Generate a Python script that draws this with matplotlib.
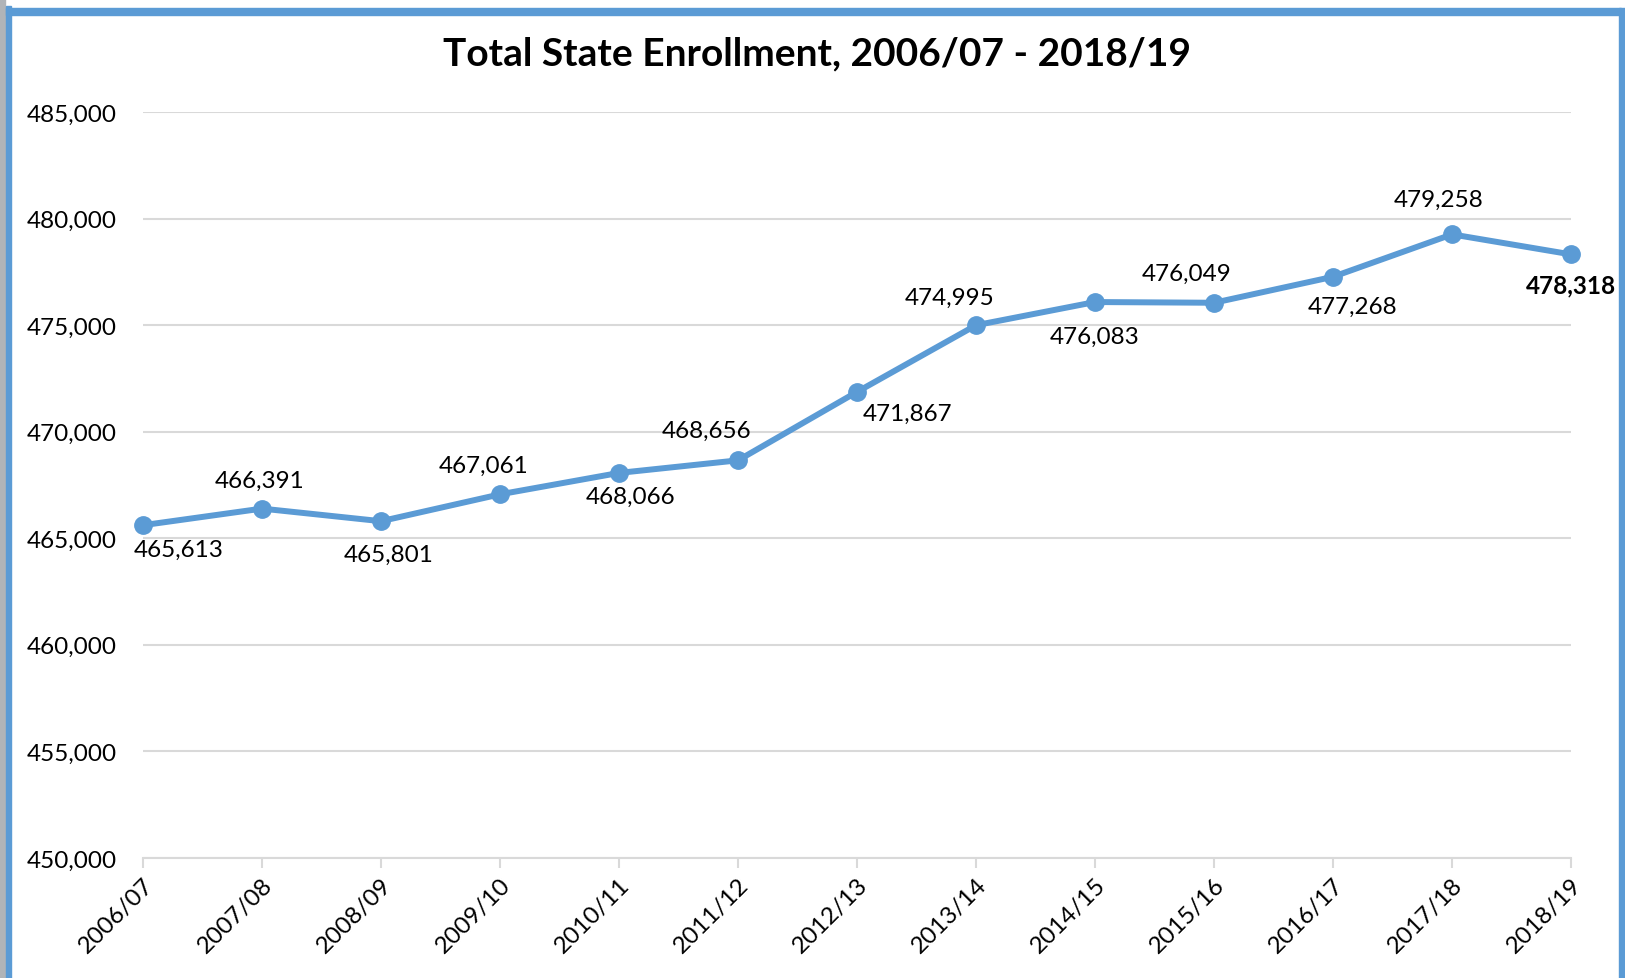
import matplotlib.pyplot as plt
from matplotlib.patches import Rectangle
from matplotlib.ticker import FuncFormatter, MultipleLocator

plt.rcParams['font.family'] = ['Lato', 'DejaVu Sans']

years = ['2006/07', '2007/08', '2008/09', '2009/10', '2010/11', '2011/12', '2012/13',
         '2013/14', '2014/15', '2015/16', '2016/17', '2017/18', '2018/19']
enrollment = [465613, 466391, 465801, 467061, 468066, 468656, 471867,
              474995, 476083, 476049, 477268, 479258, 478318]

# label offsets in pixels (dx, dy)
label_offsets = [(36, -24), (-2, 28), (8, -33), (-16, 29), (12, -23), (-31, 30), (51, -21),
                 (-26, 28), (0, -34), (-27, 29), (19, -30), (-13, 35), (0, -31)]

blue = '#5b9bd5'
grid_col = '#d9d9d9'

fig = plt.figure(figsize=(16.25, 9.79), dpi=100)
ax = fig.add_axes([0.088, 0.1226, 0.8788, 0.762])

x = list(range(len(years)))
ax.plot(x, enrollment, color=blue, lw=4.3, marker='o', ms=12.5, zorder=3, clip_on=False)

for i, v in enumerate(enrollment):
    dx, dy = label_offsets[i]
    ax.annotate(f'{v:,}', (i, v), xytext=(dx, dy), textcoords='offset pixels',
                ha='center', va='center', fontsize=17.5,
                fontweight='bold' if i == len(enrollment) - 1 else 'normal',
                annotation_clip=False)

ax.set_xlim(0, len(years) - 1)
ax.set_ylim(450000, 485000)
ax.yaxis.set_major_locator(MultipleLocator(5000))
ax.yaxis.set_major_formatter(FuncFormatter(lambda v, p: f'{int(v):,}'))
ax.set_xticks(x)
ax.set_xticklabels(years, rotation=45, ha='right', rotation_mode='anchor')

ax.grid(axis='y', color=grid_col, lw=1.5)
ax.set_axisbelow(True)
for s in ['top', 'right', 'left']:
    ax.spines[s].set_visible(False)
ax.spines['bottom'].set_color(grid_col)
ax.spines['bottom'].set_linewidth(1.5)
ax.tick_params(axis='y', length=0, labelsize=17.5, pad=19)
ax.tick_params(axis='x', length=7, width=1.5, color=grid_col, labelsize=17.5, pad=4)

fig.text(0.503, 0.945, 'Total State Enrollment, 2006/07 - 2018/19',
         ha='center', va='center', fontsize=28, fontweight='bold')

# window frame of the screenshot
fig.patches.append(Rectangle((0, 0), 0.003, 1, transform=fig.transFigure,
                             color='#b0b4b8', zorder=0))
fig.patches.append(Rectangle((0.0035, 0), 0.003, 0.993, transform=fig.transFigure,
                             color=blue, zorder=0))
fig.patches.append(Rectangle((0.0035, 0.984), 0.994, 0.007, transform=fig.transFigure,
                             color=blue, zorder=0))
fig.patches.append(Rectangle((0.9965, 0), 0.0035, 0.991, transform=fig.transFigure,
                             color=blue, zorder=0))

fig.savefig('out.png', dpi=100)
